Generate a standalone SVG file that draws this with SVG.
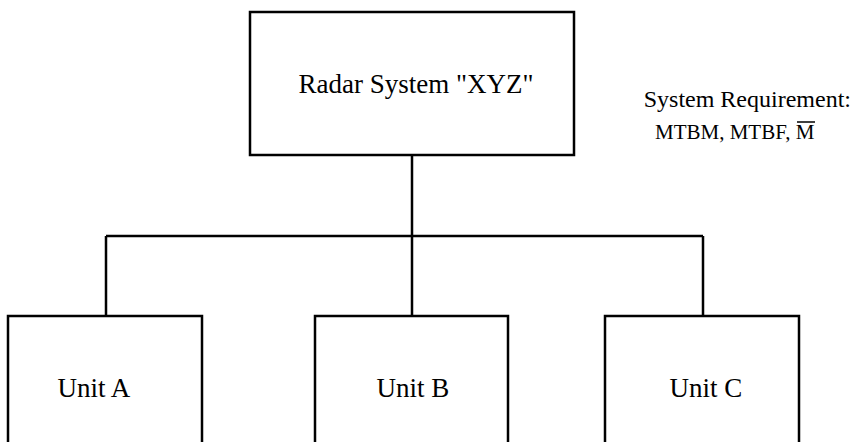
<svg xmlns="http://www.w3.org/2000/svg" width="856" height="442" viewBox="0 0 856 442">
<style>
.box{fill:none;stroke:#000;stroke-width:2.5}
.conn{fill:none;stroke:#000;stroke-width:2.5}
text{font-family:"Liberation Serif","Times New Roman",serif;fill:#000}
.lbl{font-size:27px}
.req{font-size:24px}
.req2{font-size:21px}
</style>
<rect width="856" height="442" fill="#fff"/>
<g id="connectors">
<path class="conn" d="M412 155 V236 M106 236 H703 M106 236 V316 M412 236 V316 M703 236 V316"/>
</g>
<g id="radar">
<rect class="box" x="250" y="12" width="324" height="143"/>
<text class="lbl" x="416" y="93" text-anchor="middle">Radar System "XYZ"</text>
</g>
<g id="requirement">
<text class="req" x="851" y="107" text-anchor="end">System Requirement:</text>
<text class="req2" x="655" y="139">MTBM, MTBF, M</text>
<line x1="797" y1="122" x2="815" y2="122" stroke="#000" stroke-width="1.5"/>
</g>
<g id="unitA">
<rect class="box" x="8" y="316" width="194" height="150"/>
<text class="lbl" x="94" y="397" text-anchor="middle">Unit A</text>
</g>
<g id="unitB">
<rect class="box" x="315" y="316" width="193" height="150"/>
<text class="lbl" x="413" y="397" text-anchor="middle">Unit B</text>
</g>
<g id="unitC">
<rect class="box" x="605" y="316" width="194" height="150"/>
<text class="lbl" x="706" y="397" text-anchor="middle">Unit C</text>
</g>
</svg>
